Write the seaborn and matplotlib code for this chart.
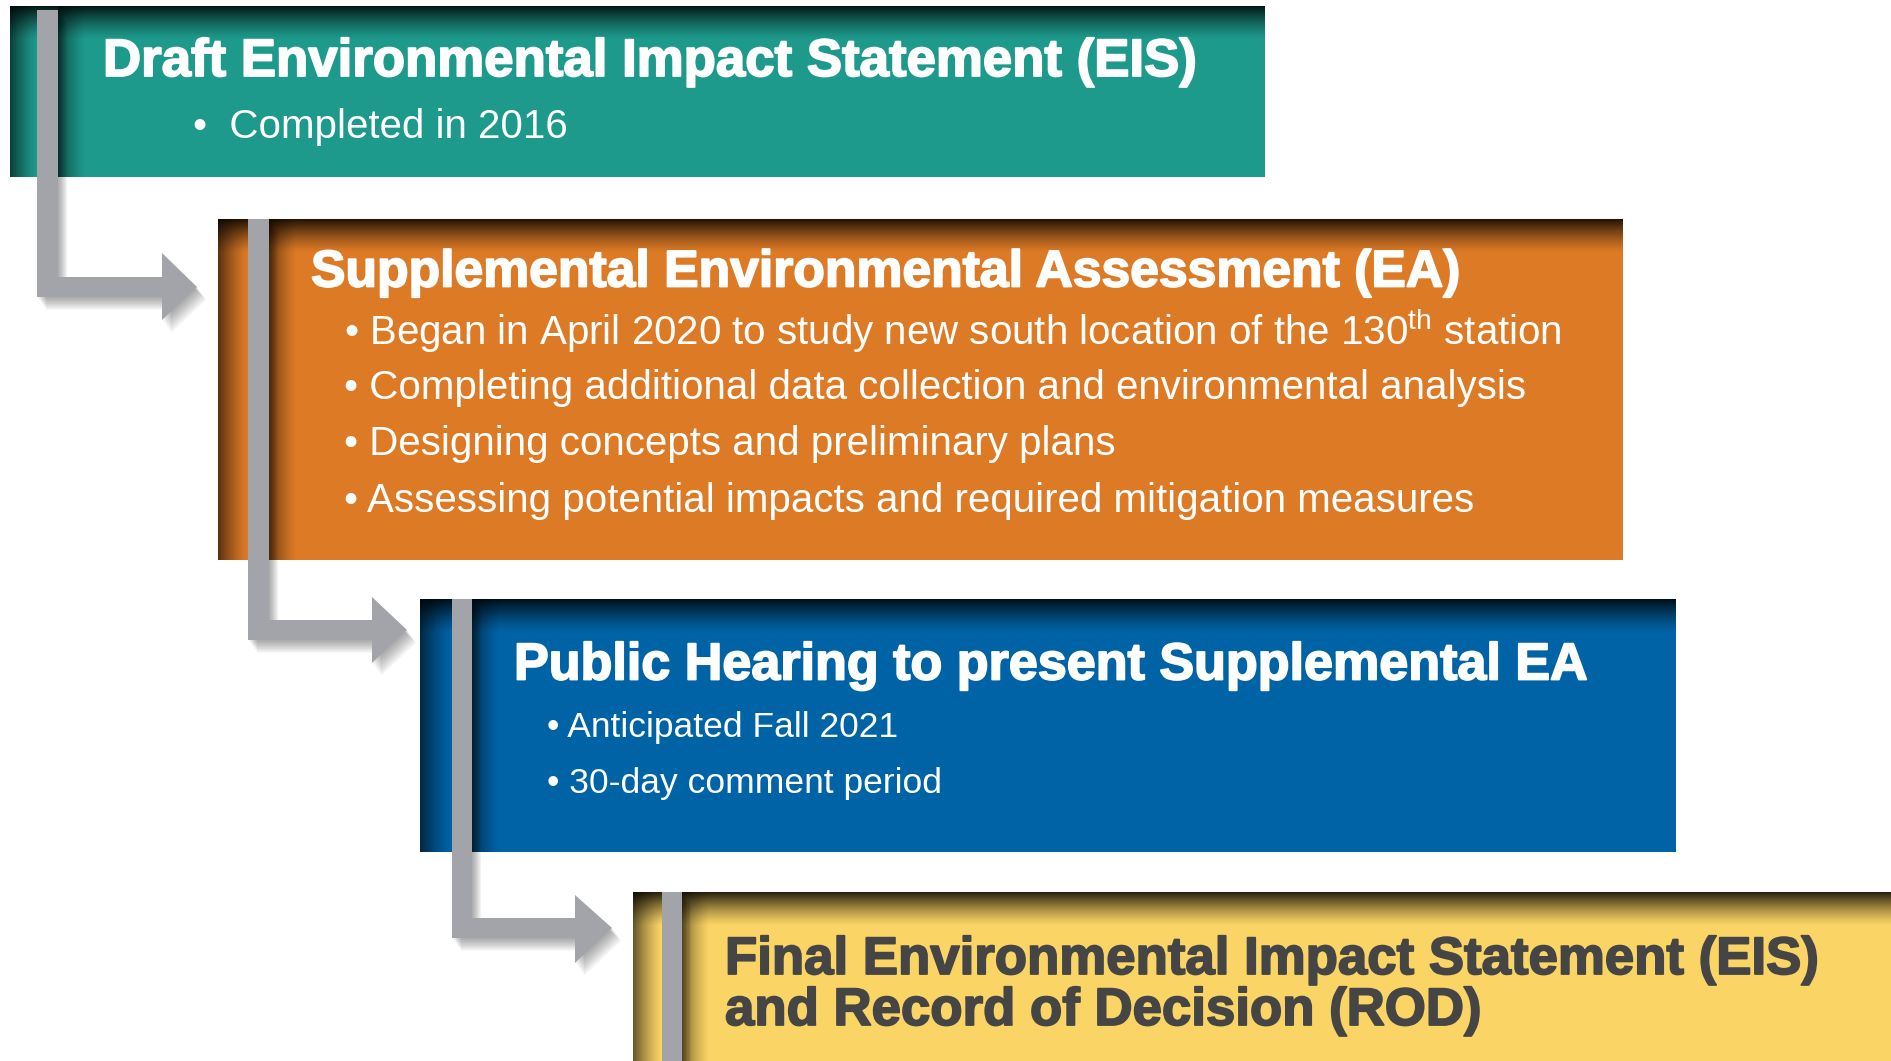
import numpy as np
import matplotlib.pyplot as plt
import matplotlib.patheffects as pe
from matplotlib.patches import Rectangle, Polygon
import seaborn as sns

# Stage titles and bullet points (top to bottom)
titles = [
    "Draft Environmental Impact Statement (EIS)",
    "Supplemental Environmental Assessment (EA)",
    "Public Hearing to present Supplemental EA",
    "Final Environmental Impact Statement (EIS)\nand Record of Decision (ROD)",
]
bullets_draft = ["Completed in 2016"]
bullets_supplemental = [
    "Began in April 2020 to study new south location of the 130$^{\\mathrm{th}}$ station",
    "Completing additional data collection and environmental analysis",
    "Designing concepts and preliminary plans",
    "Assessing potential impacts and required mitigation measures",
]
bullets_hearing = ["Anticipated Fall 2021", "30-day comment period"]
bullets_final = []
stage_bullets = [bullets_draft, bullets_supplemental, bullets_hearing, bullets_final]

box_colors = sns.color_palette(["#1d9a8c", "#dd7a26", "#0063a6", "#fad464"])
text_colors = ["white", "white", "white", "#454545"]
connector_color = "#a3a4a9"

sns.set_theme(style="white")
plt.rcParams['font.family'] = ['Liberation Sans', 'DejaVu Sans']
plt.rcParams['mathtext.fontset'] = 'custom'
plt.rcParams['mathtext.rm'] = 'Liberation Sans'
plt.rcParams['mathtext.it'] = 'Liberation Sans:italic'
plt.rcParams['mathtext.bf'] = 'Liberation Sans:bold'

W, H = 1891, 1061
fig = plt.figure(figsize=(W / 100, H / 100), dpi=100)
ax = fig.add_axes([0, 0, 1, 1])
ax.axis('off')

# layout in pixels: box (x0, y0, x1, y1), gray bar x-range, title/bullet placement
layout = [
    dict(box=(10, 6, 1265, 177), bar=(37, 58), bar_top=10,
         title=(103, 62), title_size=38, bullet_x=193, bullet_y=[127], bullet_size=29, gap="  "),
    dict(box=(218, 219, 1623, 560), bar=(248, 269), bar_top=219,
         title=(311, 273), title_size=37.2, bullet_x=344, bullet_y=[331, 388, 444, 501],
         bullet_size=29, gap=" "),
    dict(box=(420, 599, 1676, 852), bar=(452, 472), bar_top=599,
         title=(514, 666), title_size=37.5, bullet_x=547, bullet_y=[727, 783], bullet_size=25.5, gap=" "),
    dict(box=(633, 892, 1891, 1061), bar=(662, 682), bar_top=892,
         title=(725, 960), title_size=38, bullet_x=0, bullet_y=[], bullet_size=25, gap=" "),
]
# arrow arms: (arm y0, arm y1, head base x, head y0, head y1, tip x)
arms = [
    (277, 297, 162, 253, 320, 197),
    (620, 640, 372, 597, 663, 407),
    (918, 938, 575, 895, 963, 612),
]


def shade(x0, x1, y0, y1, direction, amax, z):
    ramp = np.linspace(amax, 0, 80) ** 1.3 / amax ** 0.3
    if direction == 'down':
        alpha = ramp[:, None] * np.ones((1, 2))
    else:
        alpha = np.ones((2, 1)) * ramp[None, :]
    rgba = np.zeros(alpha.shape + (4,))
    rgba[..., 3] = alpha
    ax.imshow(rgba, extent=(x0, x1, y1, y0), origin='upper', aspect='auto',
              interpolation='bilinear', zorder=z)


for i, (lay, col) in enumerate(zip(layout, box_colors)):
    x0, y0, x1, y1 = lay['box']
    z = 1 + i * 10
    ax.add_patch(Rectangle((x0, y0), x1 - x0, y1 - y0, facecolor=col, edgecolor='none', zorder=z))
    bx0, bx1 = lay['bar']
    shade(x0, bx0, y0, y1, 'right', 0.6, z + 1)
    shade(bx1, bx1 + 28, y0, y1, 'right', 0.5, z + 1)
    shade(x0, x1, y0, y0 + 34, 'down', 0.85, z + 2)

    # text
    tx, ty = lay['title']
    lines = titles[i].split("\n")
    for k, line in enumerate(lines):
        ax.text(tx, ty + k * 51, line, color=text_colors[i], fontsize=lay['title_size'],
                fontweight='bold', va='center', ha='left', zorder=z + 5,
                path_effects=[pe.withStroke(linewidth=1.3, foreground=text_colors[i])])
    for by, b in zip(lay['bullet_y'], stage_bullets[i]):
        ax.text(lay['bullet_x'], by, "\u2022" + lay['gap'] + b, color=text_colors[i],
                fontsize=lay['bullet_size'], va='center', ha='left', zorder=z + 5)

# gray connectors (drawn above the box they start in)
for i, lay in enumerate(layout):
    bx0, bx1 = lay['bar']
    top = lay['bar_top']
    z = 1 + i * 10 + 3
    if i < len(arms):
        a0, a1, hb, h0, h1, tip = arms[i]
        pts = [(bx0, top), (bx1, top), (bx1, a0), (hb, a0), (hb, h0), (tip, (a0 + a1) / 2),
               (hb, h1), (hb, a1), (bx0, a1)]
    else:
        pts = [(bx0, top), (bx1, top), (bx1, H + 5), (bx0, H + 5)]
    for k in range(1, 8):
        sh = [(px + 1.3 * k, py + 1.8 * k) for px, py in pts]
        ax.add_patch(Polygon(sh, closed=True, facecolor='black', edgecolor='none',
                             alpha=0.05, zorder=z))
    ax.add_patch(Polygon(pts, closed=True, facecolor=connector_color, edgecolor='none', zorder=z + 0.5))

ax.set_xlim(0, W)
ax.set_ylim(H, 0)
fig.savefig("out.png", dpi=100, facecolor='white')
